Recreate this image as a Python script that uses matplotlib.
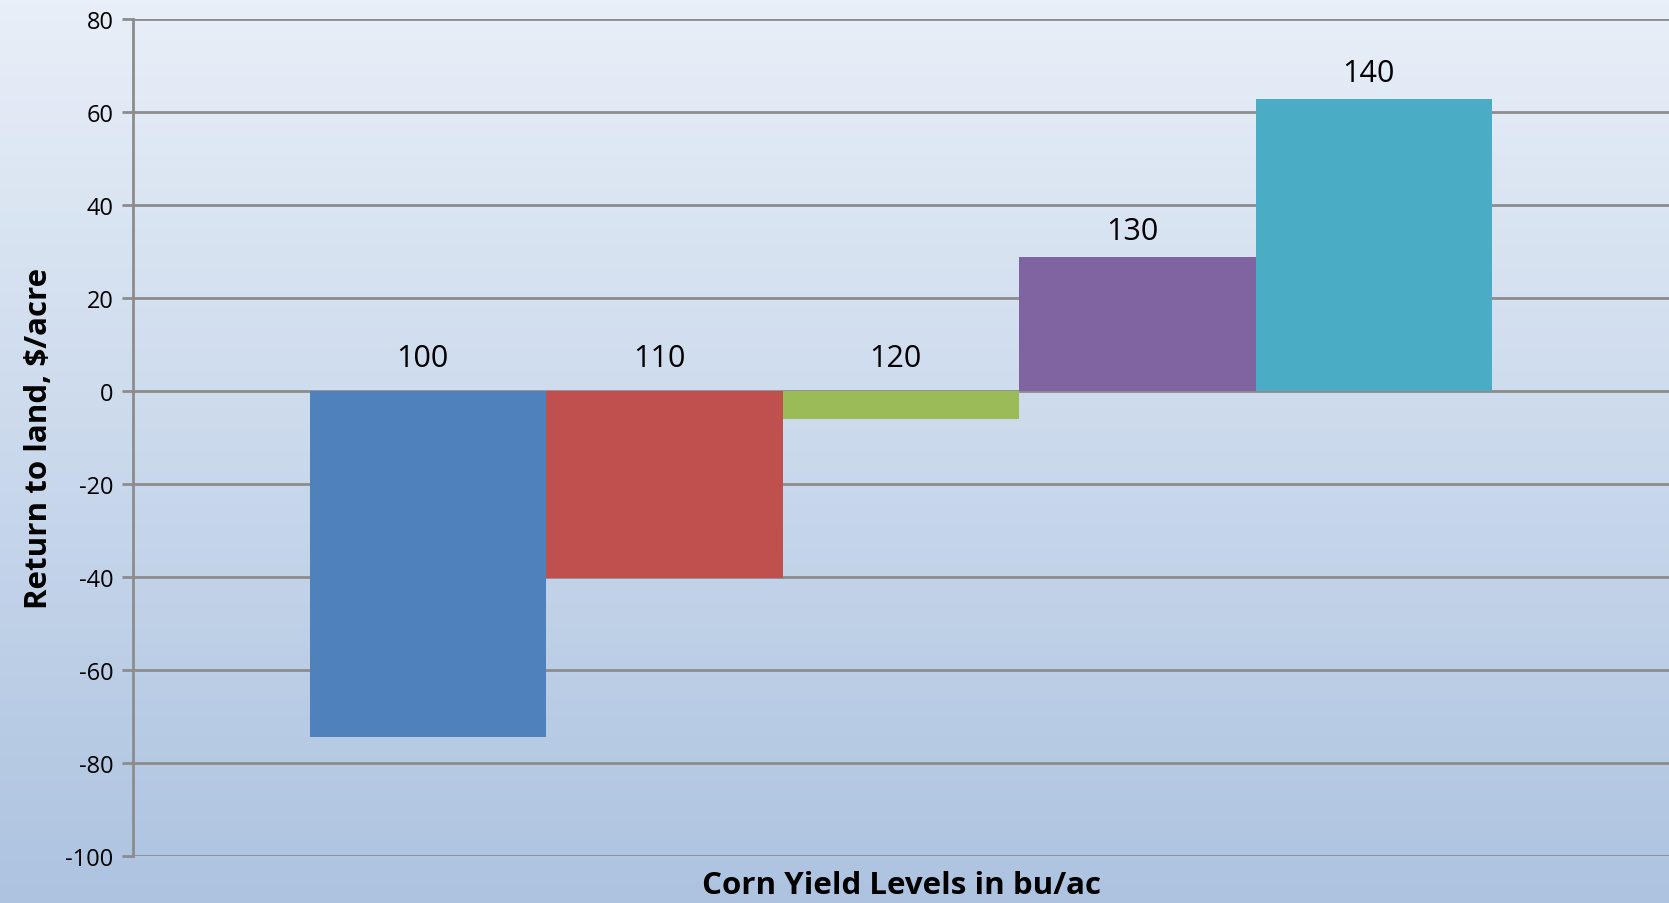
import numpy as np
import matplotlib
matplotlib.use("Agg")
import matplotlib.pyplot as plt
from matplotlib.colors import LinearSegmentedColormap

plt.rcParams['font.family'] = ['Open Sans', 'DejaVu Sans']
plt.rcParams['axes.unicode_minus'] = False

# data
yield_levels = ['100', '110', '120', '130', '140']
returns = [-74.5, -40.3, -6.0, 28.7, 62.8]
colors = ['#4f81bd', '#c0504d', '#9bbb59', '#8064a2', '#4bacc6']

fig = plt.figure(figsize=(16.69, 9.04), dpi=100)

# gradient background
bg = fig.add_axes([0, 0, 1, 1], zorder=-1)
grad = np.linspace(0, 1, 256).reshape(-1, 1)
cmap = LinearSegmentedColormap.from_list('bg', ['#e8eff8', '#adc3e0'])
bg.imshow(grad, aspect='auto', cmap=cmap, extent=[0, 1, 0, 1], origin='upper')
bg.axis('off')

ax = fig.add_axes([0.0797, 0.052, 0.9203, 0.926])
ax.set_facecolor('none')

w = 0.154
for i, (lab, v, c) in enumerate(zip(yield_levels, returns, colors)):
    x = 0.5 + (i - 2) * w
    ax.bar(x, v, width=w, color=c, zorder=3)
    off = 8 if v > 0 else 13
    ax.annotate(lab, (x, max(v, 0)), xytext=(-4, off), textcoords='offset points',
                ha='center', va='bottom', fontsize=22, color='black')

ax.set_xlim(0, 1)
ax.set_ylim(-100, 80)
ax.set_yticks(range(-100, 81, 20))
ax.set_xticks([])
ax.grid(axis='y', color='#8c8c8c', linewidth=2, zorder=1)
for s in ['top', 'right', 'bottom']:
    ax.spines[s].set_visible(False)
ax.spines['left'].set_color('#8c8c8c')
ax.spines['left'].set_linewidth(2)
ax.tick_params(axis='y', length=8, width=2, color='#8c8c8c', labelsize=17, pad=6)

ax.set_ylabel('Return to land, $/acre', fontsize=22.5, fontweight='bold', labelpad=8)
ax.set_xlabel('Corn Yield Levels in bu/ac', fontsize=22.5, fontweight='bold', labelpad=10)

fig.savefig('out.png', dpi=100)
